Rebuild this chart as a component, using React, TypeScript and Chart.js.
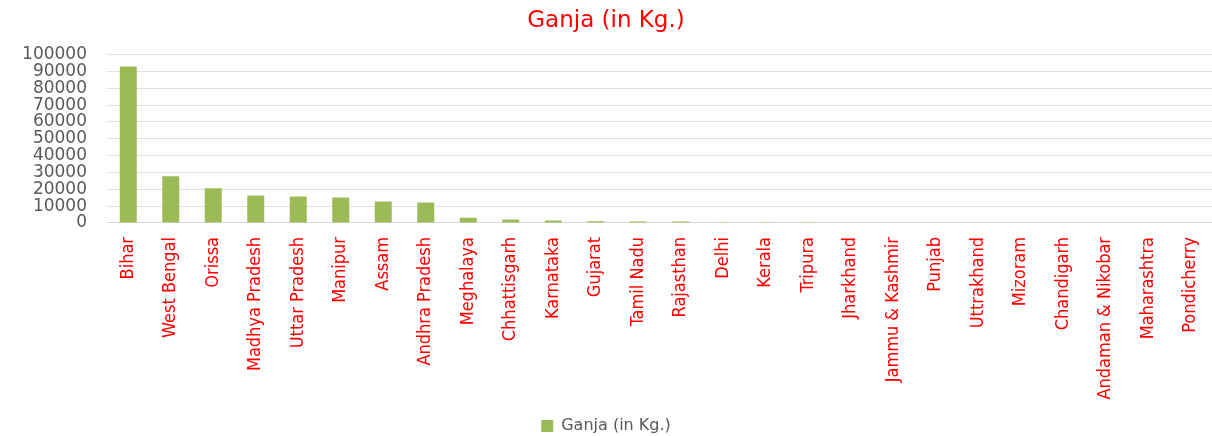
import React, { useEffect, useRef } from "react";
import { Chart, registerables } from "chart.js";

Chart.register(...registerables);

const categories: string[] = [
  "Bihar", "West Bengal", "Orissa", "Madhya Pradesh", "Uttar Pradesh", "Manipur",
  "Assam", "Andhra Pradesh", "Meghalaya", "Chhattisgarh", "Karnataka", "Gujarat",
  "Tamil Nadu", "Rajasthan", "Delhi", "Kerala", "Tripura", "Jharkhand",
  "Jammu & Kashmir", "Punjab", "Uttrakhand", "Mizoram", "Chandigarh",
  "Andaman & Nikobar", "Maharashtra", "Pondicherry",
];

const ganjaKg: number[] = [
  93000, 27700, 20700, 16300, 15700, 15100, 12700, 12100, 3100, 2100, 1500, 1000,
  900, 900, 500, 400, 400, 350, 0, 0, 0, 0, 0, 0, 0, 0,
];

const seriesLabel = "Ganja (in Kg.)";
const titleText = "Ganja (in Kg.)";

export default function App() {
  const ref = useRef<HTMLCanvasElement | null>(null);

  useEffect(() => {
    if (!ref.current) return;
    const chart = new Chart(ref.current, {
      type: "bar",
      data: {
        labels: categories,
        datasets: [
          {
            label: seriesLabel,
            data: ganjaKg,
            backgroundColor: "#9bbb59",
            borderWidth: 0,
            categoryPercentage: 1,
            barPercentage: 0.4,
          },
        ],
      },
      options: {
        animation: false,
        responsive: false,
        maintainAspectRatio: false,
        layout: { padding: { left: 0, right: 0, top: 0, bottom: -8 } },
        plugins: {
          title: {
            display: true,
            text: titleText,
            color: "#ff0000",
            font: { family: "'DejaVu Sans', sans-serif", size: 23, weight: "normal" },
            padding: { top: 7, bottom: 20 },
          },
          legend: {
            display: true,
            position: "bottom",
            labels: {
              color: "#595959",
              font: { family: "'DejaVu Sans', sans-serif", size: 16 },
              boxWidth: 12,
              boxHeight: 12,
              padding: 2,
            },
          },
          tooltip: { enabled: false },
        },
        scales: {
          x: {
            grid: { display: false, drawTicks: false },
            border: { display: true, color: "#d9d9d9" },
            ticks: {
              color: "#ff0000",
              autoSkip: false,
              minRotation: 90,
              maxRotation: 90,
              padding: 14,
              font: { family: "'Liberation Sans Narrow', 'DejaVu Sans Condensed', sans-serif", size: 18 },
            },
            afterFit: (scale: any) => {
              scale.height = 193;
              scale.paddingLeft = 0;
              scale.paddingRight = 0;
            },
          },
          y: {
            min: 0,
            max: 100000,
            grid: { color: "#e0e0e0", drawTicks: false },
            border: { display: false },
            ticks: {
              stepSize: 10000,
              autoSkip: false,
              color: "#595959",
              padding: 20,
              font: { family: "'DejaVu Sans', sans-serif", size: 17 },
              callback: (v: any) => String(v),
            },
            afterFit: (scale: any) => {
              scale.width = 107;
            },
          },
        },
      },
    });
    return () => chart.destroy();
  }, []);

  return (
    <div style={{ position: "absolute", left: 0, top: 0, width: 1212, height: 436, background: "#fff" }}>
      <canvas ref={ref} width={1212} height={436} style={{ width: 1212, height: 436 }} />
    </div>
  );
}
